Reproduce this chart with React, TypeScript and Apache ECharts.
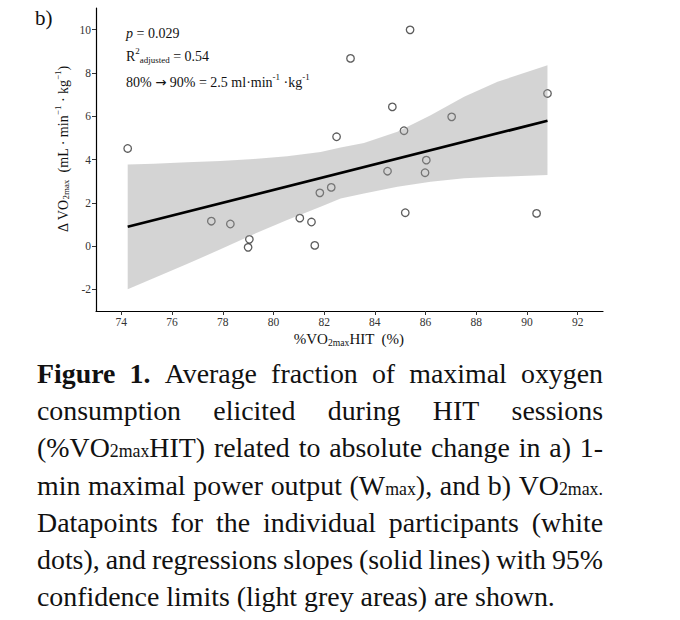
import React, { useEffect, useRef } from "react";
import * as echarts from "echarts";

// ---- data ----
const pointsX = [74.25, 77.55, 78.3, 79.05, 79.0, 81.04, 81.5, 81.63, 81.83, 82.28, 82.49, 83.04, 84.5, 84.69, 85.15, 85.2, 85.39, 85.98, 86.03, 87.03, 90.38, 90.81];
const pointsY = [4.51, 1.15, 1.02, 0.31, -0.06, 1.29, 1.11, 0.03, 2.46, 2.71, 5.05, 8.67, 3.46, 6.43, 5.33, 1.54, 9.99, 3.39, 3.97, 5.97, 1.51, 7.05];

const fitX = [74.25, 90.81];
const fitY = [0.89, 5.79];

const bandX = [74.25, 75.27, 76.59, 77.91, 79.22, 80.54, 81.86, 82.65, 83.57, 84.89, 86.2, 87.52, 88.84, 90.81];
const bandUpper = [3.77, 3.8, 3.87, 3.93, 4.02, 4.15, 4.35, 4.55, 4.76, 5.28, 6.05, 6.9, 7.59, 8.36];
const bandLower = [-1.99, -1.49, -0.83, -0.15, 0.55, 1.2, 1.82, 2.2, 2.43, 2.74, 2.97, 3.13, 3.2, 3.28];

const xTicks = [74, 76, 78, 80, 82, 84, 86, 88, 90, 92];
const yTicks = [-2, 0, 2, 4, 6, 8, 10];

const panelLabel = "b)";
const xTitle = "%VO{s|2max}HIT  (%)";
const yTitle = "\u0394 VO{s|2max}  (mL \u00b7 min{p|\u22121} \u00b7 kg{p|\u22121})";
const annotations = [
  "{i|p} = 0.029",
  "R{p|2}{s|adjusted} = 0.54",
  "80% {a|\u2192} 90% = 2.5 ml\u00b7min{p|-1} \u00b7kg{p|-1}",
];

const captionLines = [
  "{b|Figure} {b|1.} Average fraction of maximal oxygen",
  "consumption elicited during HIT sessions",
  "(%VO{s|2max}HIT) related to absolute change in a) 1-",
  "min maximal power output (W{s|max}), and b) VO{s|2max.}",
  "Datapoints for the individual participants (white",
  "dots), and regressions slopes (solid lines) with 95%",
  "confidence limits (light grey areas) are shown.",
];

const SERIF = '"Liberation Serif", "Times New Roman", serif';

// sub: subscript shifted down by `down` (fraction of font size) from centred position
function richFor(fs: number, down = 0.5) {
  return {
    i: { fontStyle: "italic", fontSize: fs, fontFamily: SERIF, lineHeight: fs * 1.3 },
    b: { fontWeight: "bold", fontSize: fs, fontFamily: SERIF, lineHeight: fs * 1.3 },
    a: { fontSize: fs * 0.95, fontFamily: '"DejaVu Sans", sans-serif', lineHeight: fs * 1.3 },
    s: { fontSize: fs * 0.64, fontFamily: SERIF, verticalAlign: "middle", padding: [fs * down, 0, 0, 0] },
    p: { fontSize: fs * 0.64, fontFamily: SERIF, verticalAlign: "top", lineHeight: fs * 0.64 * 1.15 },
  };
}

export default function App() {
  const ref = useRef<HTMLDivElement>(null);

  useEffect(() => {
    const el = ref.current!;
    const chart = echarts.init(el, undefined, { renderer: "svg" });

    const canvas = document.createElement("canvas");
    const ctx = canvas.getContext("2d")!;
    const measure = (t: string, size: number, weight = "normal") => {
      ctx.font = `normal ${weight} ${size}px ${SERIF}`;
      return ctx.measureText(t).width;
    };
    const parse = (w: string) => {
      const out: { k: string; t: string }[] = [];
      const re = /\{(\w+)\|([^}]*)\}|([^{]+)/g;
      let m: RegExpExecArray | null;
      while ((m = re.exec(w))) {
        if (m[3]) out.push({ k: "n", t: m[3] });
        else out.push({ k: m[1], t: m[2] });
      }
      return out;
    };

    // caption layout
    const capLeft = 37;
    const capRight = 603;
    const capYs = [373, 410, 447, 485, 522, 559, 596];
    const lastPlain = captionLines[captionLines.length - 1];
    const fs = (518 / measure(lastPlain, 100)) * 100;
    const wordWidth = (w: string) =>
      parse(w).reduce(
        (a, seg) =>
          a +
          (seg.k === "b" ? measure(seg.t, fs, "bold") : seg.k === "s" ? measure(seg.t, fs * 0.64) : measure(seg.t, fs)),
        0
      );
    const capRich = richFor(fs, 0.3);
    const captionEls: any[] = [];
    captionLines.forEach((line, li) => {
      const words = line.split(" ");
      const widths = words.map(wordWidth);
      const total = widths.reduce((a, b) => a + b, 0);
      const isLast = li === captionLines.length - 1;
      const gap = isLast ? measure(" ", fs) : (capRight - capLeft - total) / (words.length - 1);
      let x = capLeft;
      words.forEach((w, wi) => {
        captionEls.push({
          type: "text",
          x,
          y: capYs[li],
          style: {
            text: w,
            fontSize: fs,
            fontFamily: SERIF,
            lineHeight: fs * 1.3,
            fill: "#111",
            rich: capRich,
            align: "left",
            textAlign: "left",
            verticalAlign: "middle",
            textVerticalAlign: "middle",
          },
        });
        x += widths[wi] + gap;
      });
    });

    const annFs = 14;
    const annYs = [33, 56, 82];
    const annEls = annotations.map((t, i) => ({
      type: "text",
      x: 126,
      y: annYs[i],
      style: {
        text: t,
        fontSize: annFs,
        fontFamily: SERIF,
        lineHeight: annFs * 1.3,
        fill: "#111",
        rich: richFor(annFs, 0.55),
        align: "left",
        textAlign: "left",
        verticalAlign: "middle",
        textVerticalAlign: "middle",
      },
    }));

    const option: any = {
      animation: false,
      backgroundColor: "#fff",
      grid: { left: 96, top: 8, width: 507, height: 303, containLabel: false },
      xAxis: {
        type: "value",
        min: 73,
        max: 93,
        splitLine: { show: false },
        axisLine: { show: true, onZero: false, lineStyle: { color: "#000", width: 1.2 } },
        axisTick: { show: true, length: 4, customValues: xTicks, lineStyle: { color: "#333", width: 1 } },
        axisLabel: {
          customValues: xTicks,
          fontFamily: SERIF,
          fontSize: 11.5,
          color: "#333",
          margin: 5,
        },
      },
      yAxis: {
        type: "value",
        min: -3,
        max: 11,
        splitLine: { show: false },
        axisLine: { show: true, onZero: false, lineStyle: { color: "#000", width: 1.2 } },
        axisTick: { show: true, length: 4, customValues: yTicks, lineStyle: { color: "#333", width: 1 } },
        axisLabel: {
          customValues: yTicks,
          fontFamily: SERIF,
          fontSize: 11.5,
          color: "#333",
          margin: 5,
        },
      },
      series: [
        {
          type: "scatter",
          data: pointsX.map((x, i) => [x, pointsY[i]]),
          symbol: "circle",
          symbolSize: 7.5,
          itemStyle: { color: "rgba(255,255,255,0)", borderColor: "#333", borderWidth: 1.3 },
          z: 2,
          silent: true,
        },
        {
          type: "custom",
          data: [0],
          z: 3,
          silent: true,
          renderItem: (_params: any, api: any) => {
            const pts: number[][] = [];
            bandX.forEach((x, i) => pts.push(api.coord([x, bandUpper[i]])));
            for (let i = bandX.length - 1; i >= 0; i--) pts.push(api.coord([bandX[i], bandLower[i]]));
            return {
              type: "polygon",
              shape: { points: pts },
              style: { fill: "rgba(153,153,153,0.42)", stroke: "none" },
            };
          },
        },
        {
          type: "line",
          data: fitX.map((x, i) => [x, fitY[i]]),
          symbol: "none",
          lineStyle: { color: "#000", width: 2.7 },
          z: 4,
          silent: true,
        },
      ],
      graphic: [
        {
          type: "text",
          x: 35,
          y: 18,
          style: {
            text: panelLabel,
            fontSize: 21,
            fontFamily: SERIF,
            fill: "#111",
            align: "left",
            textAlign: "left",
            verticalAlign: "middle",
            textVerticalAlign: "middle",
          },
        },
        {
          type: "text",
          x: 349,
          y: 339,
          style: {
            text: xTitle,
            fontSize: 15,
            fontFamily: SERIF,
            lineHeight: 15 * 1.3,
            fill: "#111",
            rich: richFor(15, 0.45),
            align: "center",
            textAlign: "center",
            verticalAlign: "middle",
            textVerticalAlign: "middle",
          },
        },
        {
          type: "text",
          x: 63,
          y: 149,
          rotation: Math.PI / 2,
          style: {
            text: yTitle,
            fontSize: 14,
            fontFamily: SERIF,
            lineHeight: 14 * 1.3,
            fill: "#111",
            rich: richFor(14, 0.45),
            align: "center",
            textAlign: "center",
            verticalAlign: "middle",
            textVerticalAlign: "middle",
          },
        },
        ...annEls,
        ...captionEls,
      ],
    };

    chart.setOption(option);
    return () => chart.dispose();
  }, []);

  return (
    <div
      ref={ref}
      style={{ position: "fixed", left: 0, top: 0, width: 680, height: 620, background: "#fff" }}
    />
  );
}
